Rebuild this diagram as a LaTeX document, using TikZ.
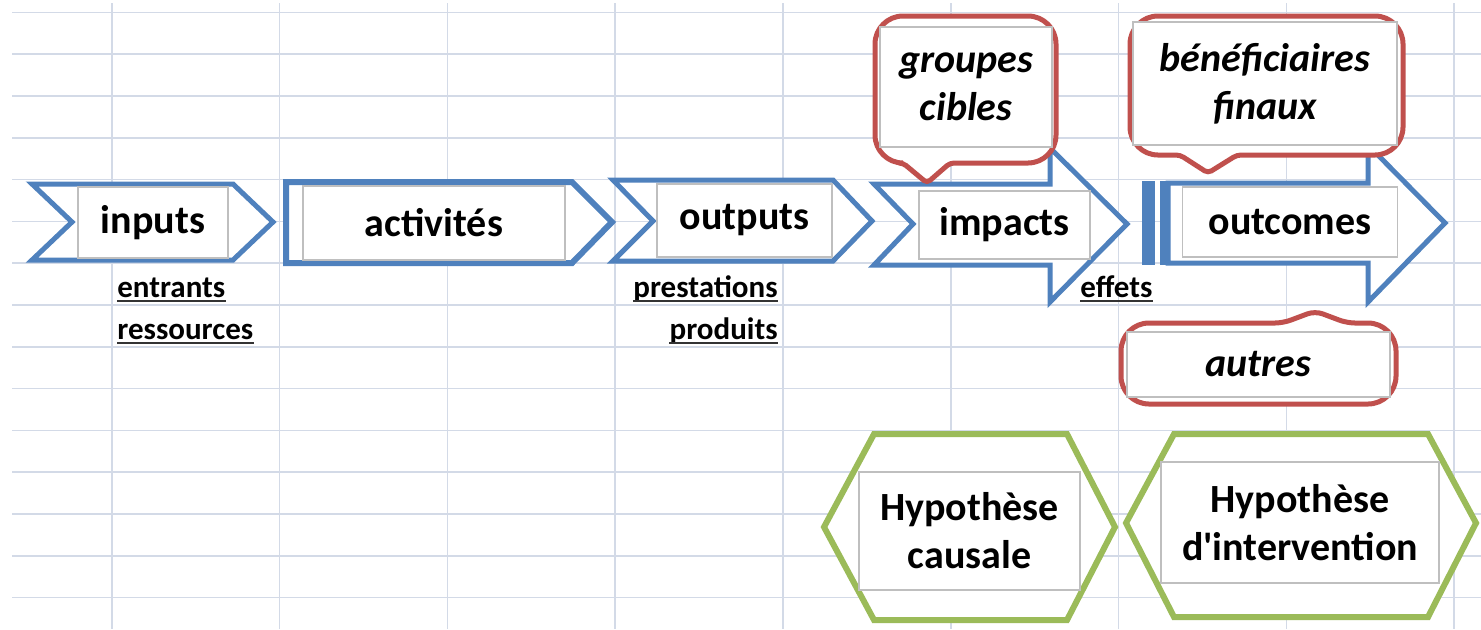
\documentclass[tikz,border=0pt]{standalone}
\usepackage{fontspec}
\setmainfont{Carlito}
\definecolor{gridc}{HTML}{D3DAE7}
\definecolor{chainblue}{HTML}{4F81BD}
\definecolor{calloutred}{HTML}{C0504D}
\definecolor{hexgreen}{HTML}{9BBB59}
\definecolor{boxgray}{HTML}{BFBFBF}

\begin{document}
\begin{tikzpicture}[x=0.5pt, y=-0.5pt,
    gridline/.style={draw=gridc, line width=0.8pt},
    chainshape/.style={draw=chainblue, line width=2.5pt, fill=white},
    callout/.style={draw=calloutred, line width=2.5pt, fill=white},
    hexshape/.style={draw=hexgreen, line width=3pt, fill=white},
    boxsize/.style 2 args={minimum width=#1*0.5pt, minimum height=#2*0.5pt},
    txtbox/.style={draw=boxgray, line width=0.6pt, fill=white, inner sep=0pt,
        align=center, font=\fontsize{20}{24}\selectfont\bfseries},
    itbox/.style={txtbox, font=\fontsize{20}{24}\selectfont\bfseries\itshape},
    ullabel/.style={inner sep=0pt, font=\fontsize{15.5}{18}\selectfont\bfseries},
    ulline/.style={draw=black!80, line width=1pt}]
    \useasboundingbox (0,0) rectangle (1481,629);

    % spreadsheet grid
    \foreach \k in {0,...,14}
        \draw[gridline] (12,{12.3+41.8*\k}) -- (1481,{12.3+41.8*\k});
    \foreach \k in {0,...,8}
        \draw[gridline] ({111.7+167.8*\k},3) -- ({111.7+167.8*\k},629);

    % chain of blue shapes
    \draw[chainshape] (32,184) -- (233,184) -- (273,222) -- (233,260) -- (32,260) -- (72,222) -- cycle;
    \draw[chainshape, line width=3pt] (286,182) -- (572,182) -- (612,222) -- (572,263) -- (286,263) -- cycle;
    \draw[chainshape] (613,180) -- (833,180) -- (872,221) -- (833,261) -- (613,261) -- (653,221) -- cycle;
    \draw[chainshape] (874,184) -- (1050,184) -- (1050,148) -- (1127,224) -- (1050,302) -- (1050,265) -- (874,265) -- (913,224) -- cycle;
    \draw[chainshape] (1168,183) -- (1368,183) -- (1368,145) -- (1445,223) -- (1368,302) -- (1368,263) -- (1168,263) -- cycle;
    \fill[chainblue] (1142,181) rectangle (1155,265);
    \fill[chainblue] (1160,181) rectangle (1170,265);

    % red callouts
    \draw[callout] (965,16) [rounded corners=14] -- (1056,16) -- (1056,163) [rounded corners=2] -- (950,163) -- (927,183) -- (903,163) [rounded corners=14] -- (875,163) -- (875,16) -- cycle;
    \draw[callout] (1265,16) [rounded corners=14] -- (1403,16) -- (1403,155) [rounded corners=2] -- (1237,155) -- (1208,173) -- (1180,155) [rounded corners=14] -- (1130,155) -- (1130,16) -- cycle;
    \draw[callout] (1200,404) [rounded corners=14] -- (1121,404) -- (1121,323) [rounded corners=4] -- (1283,323) -- (1315,311) -- (1347,323) [rounded corners=14] -- (1396,323) -- (1396,404) -- cycle;

    % green hexagons
    \draw[hexshape] (824,527) -- (874,434) -- (1067,434) -- (1115,527) -- (1067,620) -- (874,620) -- cycle;
    \draw[hexshape] (1126,523) -- (1174,434) -- (1428,434) -- (1476,523) -- (1428,617) -- (1174,617) -- cycle;

    % text boxes
    \node[txtbox, boxsize={150}{71}] (inputs) at (153,222.5) {inputs};
    \node[txtbox, boxsize={262}{74}] (activites) at (434,223) {activités};
    \node[txtbox, boxsize={175}{73}] (outputs) at (744.5,220.5) {outputs};
    \node[txtbox, boxsize={171}{68}] (impacts) at (1004.5,225) {impacts};
    \node[txtbox, boxsize={215}{70}] (outcomes) at (1290,222) {outcomes};
    \node[itbox, boxsize={172}{120}] (cibles) at (966,87) {groupes\\cibles};
    \node[itbox, boxsize={264}{123}] (finaux) at (1265,83.5) {bénéficiaires\\finaux};
    \node[itbox, boxsize={263}{65}] (autres) at (1258.5,364.5) {autres};
    \node[txtbox, boxsize={221}{118}] (causale) at (969.5,531) {Hypothèse\\causale};
    \node[txtbox, boxsize={278}{121}] (intervention) at (1300,522.5) {Hypothèse\\d\textquotesingle intervention};

    % underlined cell labels
    \node[ullabel, anchor=base west] (entrants) at (117,297) {entrants};
    \node[ullabel, anchor=base west] (ressources) at (117,339) {ressources};
    \node[ullabel, anchor=base east] (prestations) at (778,297) {prestations};
    \node[ullabel, anchor=base east] (produits) at (778,339) {produits};
    \node[ullabel, anchor=base west] (effets) at (1080,297) {effets};
    \foreach \n in {entrants,ressources,prestations,produits,effets}
        \draw[ulline] ([yshift=-2pt]\n.base west) -- ([yshift=-2pt]\n.base east);
\end{tikzpicture}
\end{document}
